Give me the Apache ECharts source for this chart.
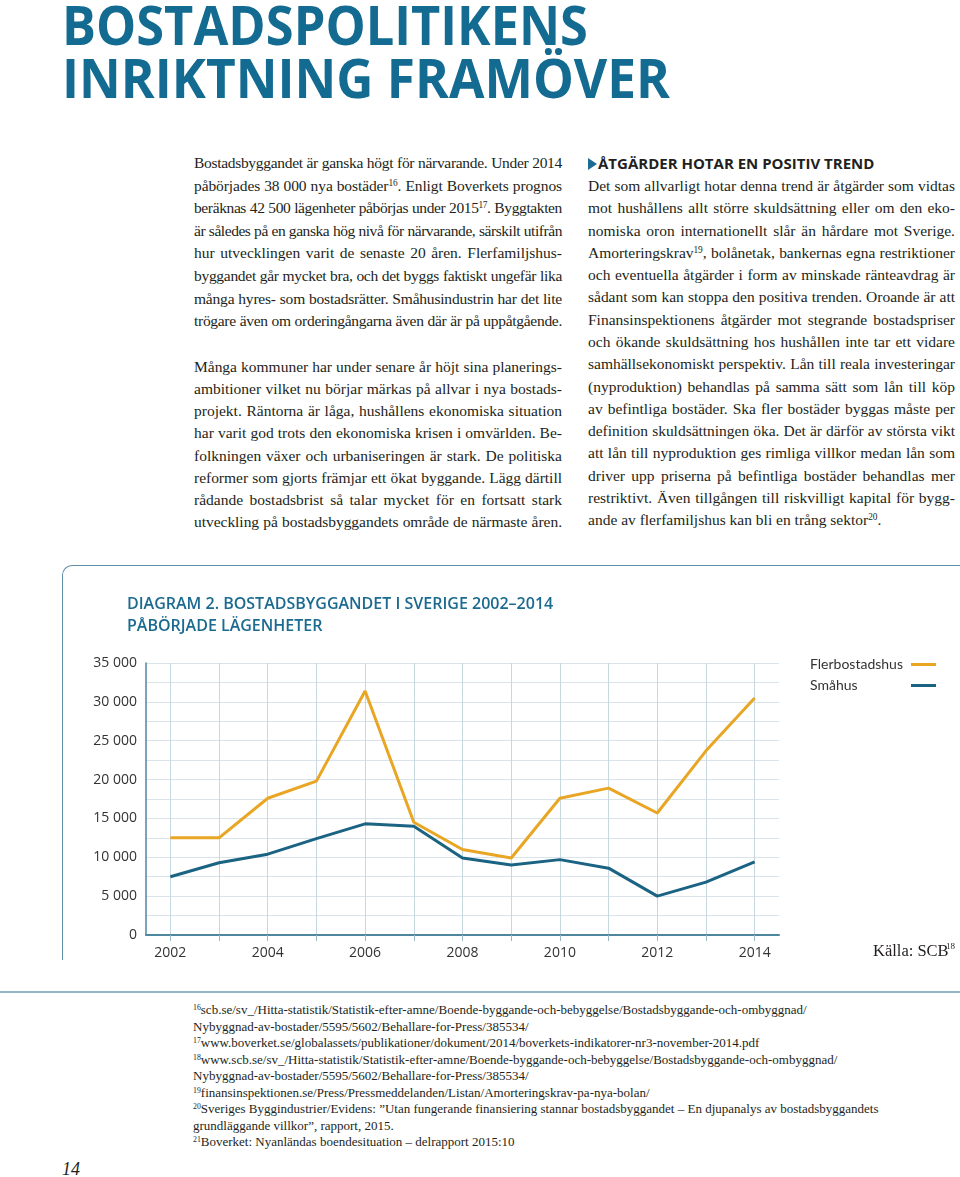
<!DOCTYPE html>
<html><head><meta charset="utf-8">
<script src="https://cdn.jsdelivr.net/npm/echarts@6/dist/echarts.min.js"></script>
<style>
html,body{margin:0;padding:0;background:#fff;}
body{width:960px;height:1177px;position:relative;overflow:hidden;}
.abs{position:absolute;}
.title{font-family:"Open Sans",sans-serif;font-weight:700;color:#136b92;font-size:54px;line-height:54px;white-space:nowrap;transform-origin:0 0;}
.col{font-family:"Liberation Serif",serif;font-size:15.5px;color:#231f20;}
.col div{white-space:nowrap;}
.j.on{text-align:justify;text-align-last:justify;}
sup{font-size:0.6em;line-height:0;vertical-align:0.55em;}
.head{font-family:"Open Sans",sans-serif;font-weight:700;font-size:15px;color:#231f20;line-height:22.4px;white-space:nowrap;}
.tri{display:inline-block;width:0;height:0;border-left:9px solid #1d6c92;border-top:6px solid transparent;border-bottom:6px solid transparent;margin-right:1px;vertical-align:-1px;}
.fn{font-family:"Liberation Serif",serif;font-size:13px;line-height:16.55px;color:#231f20;white-space:nowrap;}
</style></head>
<body>
<div class="abs title" id="t1" style="left:62px;top:-3px;">BOSTADSPOLITIKENS</div>
<div class="abs title" id="t2" style="left:62px;top:50px;">INRIKTNING FRAMÖVER</div>

<div class="abs col" style="left:194px;top:152px;width:368px;line-height:22.6px;">
<div class="j">Bostadsbyggandet är ganska högt för närvarande. Under 2014</div>
<div class="j">påbörjades 38 000 nya bostäder<sup>16</sup>. Enligt Boverkets prognos</div>
<div class="j">beräknas 42 500 lägenheter påbörjas under 2015<sup>17</sup>. Byggtakten</div>
<div class="j">är således på en ganska hög nivå för närvarande, särskilt utifrån</div>
<div class="j">hur utvecklingen varit de senaste 20 åren. Flerfamiljshus-</div>
<div class="j">byggandet går mycket bra, och det byggs faktiskt ungefär lika</div>
<div class="j">många hyres- som bostadsrätter. Småhusindustrin har det lite</div>
<div class="j">trögare även om orderingångarna även där är på uppåtgående.</div>
</div>

<div class="abs col" style="left:194px;top:356px;width:368px;line-height:22.15px;">
<div class="j">Många kommuner har under senare år höjt sina planerings-</div>
<div class="j">ambitioner vilket nu börjar märkas på allvar i nya bostads-</div>
<div class="j">projekt. Räntorna är låga, hushållens ekonomiska situation</div>
<div class="j">har varit god trots den ekonomiska krisen i omvärlden. Be-</div>
<div class="j">folkningen växer och urbaniseringen är stark. De politiska</div>
<div class="j">reformer som gjorts främjar ett ökat byggande. Lägg därtill</div>
<div class="j">rådande bostadsbrist så talar mycket för en fortsatt stark</div>
<div class="j">utveckling på bostadsbyggandets område de närmaste åren.</div>
</div>

<div class="abs head" style="left:588px;top:152px;"><span class="tri"></span>ÅTGÄRDER HOTAR EN POSITIV TREND</div>
<div class="abs col" style="left:588px;top:175px;width:367px;line-height:22.28px;">
<div class="j">Det som allvarligt hotar denna trend är åtgärder som vidtas</div>
<div class="j">mot hushållens allt större skuldsättning eller om den eko-</div>
<div class="j">nomiska oron internationellt slår än hårdare mot Sverige.</div>
<div class="j">Amorteringskrav<sup>19</sup>, bolånetak, bankernas egna restriktioner</div>
<div class="j">och eventuella åtgärder i form av minskade ränteavdrag är</div>
<div class="j">sådant som kan stoppa den positiva trenden. Oroande är att</div>
<div class="j">Finansinspektionens åtgärder mot stegrande bostadspriser</div>
<div class="j">och ökande skuldsättning hos hushållen inte tar ett vidare</div>
<div class="j">samhällsekonomiskt perspektiv. Lån till reala investeringar</div>
<div class="j">(nyproduktion) behandlas på samma sätt som lån till köp</div>
<div class="j">av befintliga bostäder. Ska fler bostäder byggas måste per</div>
<div class="j">definition skuldsättningen öka. Det är därför av största vikt</div>
<div class="j">att lån till nyproduktion ges rimliga villkor medan lån som</div>
<div class="j">driver upp priserna på befintliga bostäder behandlas mer</div>
<div class="j">restriktivt. Även tillgången till riskvilligt kapital för bygg-</div>
<div>ande av flerfamiljshus kan bli en trång sektor<sup>20</sup>.</div>
</div>

<div class="abs" style="left:62px;top:565px;width:920px;height:395px;border-top:1.5px solid #5f8ea6;border-left:1.5px solid #5f8ea6;border-top-left-radius:10px;box-sizing:border-box;"></div>
<div class="abs" id="chart" style="left:62px;top:565px;width:898px;height:420px;"></div>

<div class="abs" style="left:0;top:991px;width:960px;height:2px;background:#93b5c6;"></div>

<div class="abs fn" style="left:193px;top:1002px;">
<div><sup>16</sup>scb.se/sv_/Hitta-statistik/Statistik-efter-amne/Boende-byggande-och-bebyggelse/Bostadsbyggande-och-ombyggnad/</div>
<div>Nybyggnad-av-bostader/5595/5602/Behallare-for-Press/385534/</div>
<div><sup>17</sup>www.boverket.se/globalassets/publikationer/dokument/2014/boverkets-indikatorer-nr3-november-2014.pdf</div>
<div><sup>18</sup>www.scb.se/sv_/Hitta-statistik/Statistik-efter-amne/Boende-byggande-och-bebyggelse/Bostadsbyggande-och-ombyggnad/</div>
<div>Nybyggnad-av-bostader/5595/5602/Behallare-for-Press/385534/</div>
<div><sup>19</sup>finansinspektionen.se/Press/Pressmeddelanden/Listan/Amorteringskrav-pa-nya-bolan/</div>
<div><sup>20</sup>Sveriges Byggindustrier/Evidens: ”Utan fungerande finansiering stannar bostadsbyggandet – En djupanalys av bostadsbyggandets</div>
<div>grundläggande villkor”, rapport, 2015.</div>
<div><sup>21</sup>Boverket: Nyanländas boendesituation – delrapport 2015:10</div>
</div>

<div class="abs" style="left:62px;top:1159px;font-family:'Liberation Serif',serif;font-style:italic;font-size:18px;color:#231f20;">14</div>

<script>
// ---- data ----
const years = ['2002','2003','2004','2005','2006','2007','2008','2009','2010','2011','2012','2013','2014'];
const flerbostadshus = [12500,12500,17600,19800,31400,14500,11000,9900,17600,18900,15700,23700,30500];
const smahus = [7500,9300,10400,12400,14300,14000,9900,9000,9700,8600,5000,6800,9400];
const seriesNames = ['Flerbostadshus','Småhus'];
const chartTitle = 'DIAGRAM 2. BOSTADSBYGGANDET I SVERIGE 2002–2014\nPÅBÖRJADE LÄGENHETER';
const sourceText = 'Källa: SCB';
const sourceSup = '18';

// ---- text fitting ----
function fitTitle(id, w){
  const el=document.getElementById(id);
  const nat=el.getBoundingClientRect().width;
  el.style.transform='scaleX('+(w/nat)+')';
}
fitTitle('t1',526); fitTitle('t2',608);
document.querySelectorAll('.j').forEach(el=>{
  const target=el.parentElement.clientWidth;
  const span=document.createElement('span');
  while(el.firstChild) span.appendChild(el.firstChild);
  el.appendChild(span);
  let w=span.getBoundingClientRect().width;
  const n=span.textContent.length;
  if(w>target-2){ span.style.letterSpacing=((target-2-w)/n)+'px'; }
  el.classList.add('on');
});

// ---- chart ----
const fmt = v => String(v).replace(/\B(?=(\d{3})+(?!\d))/g,' ');
const chart = echarts.init(document.getElementById('chart'));
chart.setOption({
  animation:false,
  title:{text:chartTitle,left:60,top:23,textStyle:{fontFamily:'Open Sans',fontWeight:600,fontSize:16,color:'#1b6a90',lineHeight:22}},
  legend:{orient:'vertical',left:743,top:86,align:'right',icon:'rect',itemWidth:25,itemHeight:3,itemGap:4,
    formatter: name => '{t|' + name + '}',
    textStyle:{fontFamily:'Lato',fontSize:14,color:'#333',lineHeight:17,
      rich:{t:{fontFamily:'Lato',fontSize:14,color:'#333',width:96,align:'left',lineHeight:17}}},
    data:seriesNames},
  grid:{left:84,top:98,width:633,height:272},
  xAxis:{type:'category',data:years,boundaryGap:true,
    axisLine:{lineStyle:{color:'#4f86a0',width:2}},
    axisTick:{show:true,alignWithLabel:true,interval:0,length:6,lineStyle:{color:'#9bb8c6'}},
    axisLabel:{interval:1,margin:11,fontFamily:'Open Sans',fontSize:14,color:'#333'},
    splitLine:{show:true,alignWithLabel:true,interval:0,lineStyle:{color:'#c6d7e0',width:1}}},
  yAxis:{type:'value',min:0,max:35000,interval:5000,
    axisLine:{show:true,lineStyle:{color:'#4f86a0',width:1.5}},
    axisTick:{show:false},
    axisLabel:{formatter:fmt,margin:9,fontFamily:'Open Sans',fontSize:14,color:'#333'},
    splitLine:{lineStyle:{color:'#d8e3ea',width:1}},
    minorTick:{show:false,splitNumber:2},
    minorSplitLine:{show:true,lineStyle:{color:'#d8e3ea',width:1}}},
  graphic:[
    {type:'text',left:811,top:378,style:{text:sourceText,font:'16.5px "Liberation Serif", serif',fill:'#231f20'}},
    {type:'text',left:884,top:377,style:{text:sourceSup,font:'9px "Liberation Serif", serif',fill:'#231f20'}}
  ],
  series:[
    {name:seriesNames[0],type:'line',data:flerbostadshus,symbol:'none',lineStyle:{width:3,color:'#e9a624'},itemStyle:{color:'#e9a624'}},
    {name:seriesNames[1],type:'line',data:smahus,symbol:'none',lineStyle:{width:3,color:'#1b6383'},itemStyle:{color:'#1b6383'}}
  ]
});
</script>
</body></html>
